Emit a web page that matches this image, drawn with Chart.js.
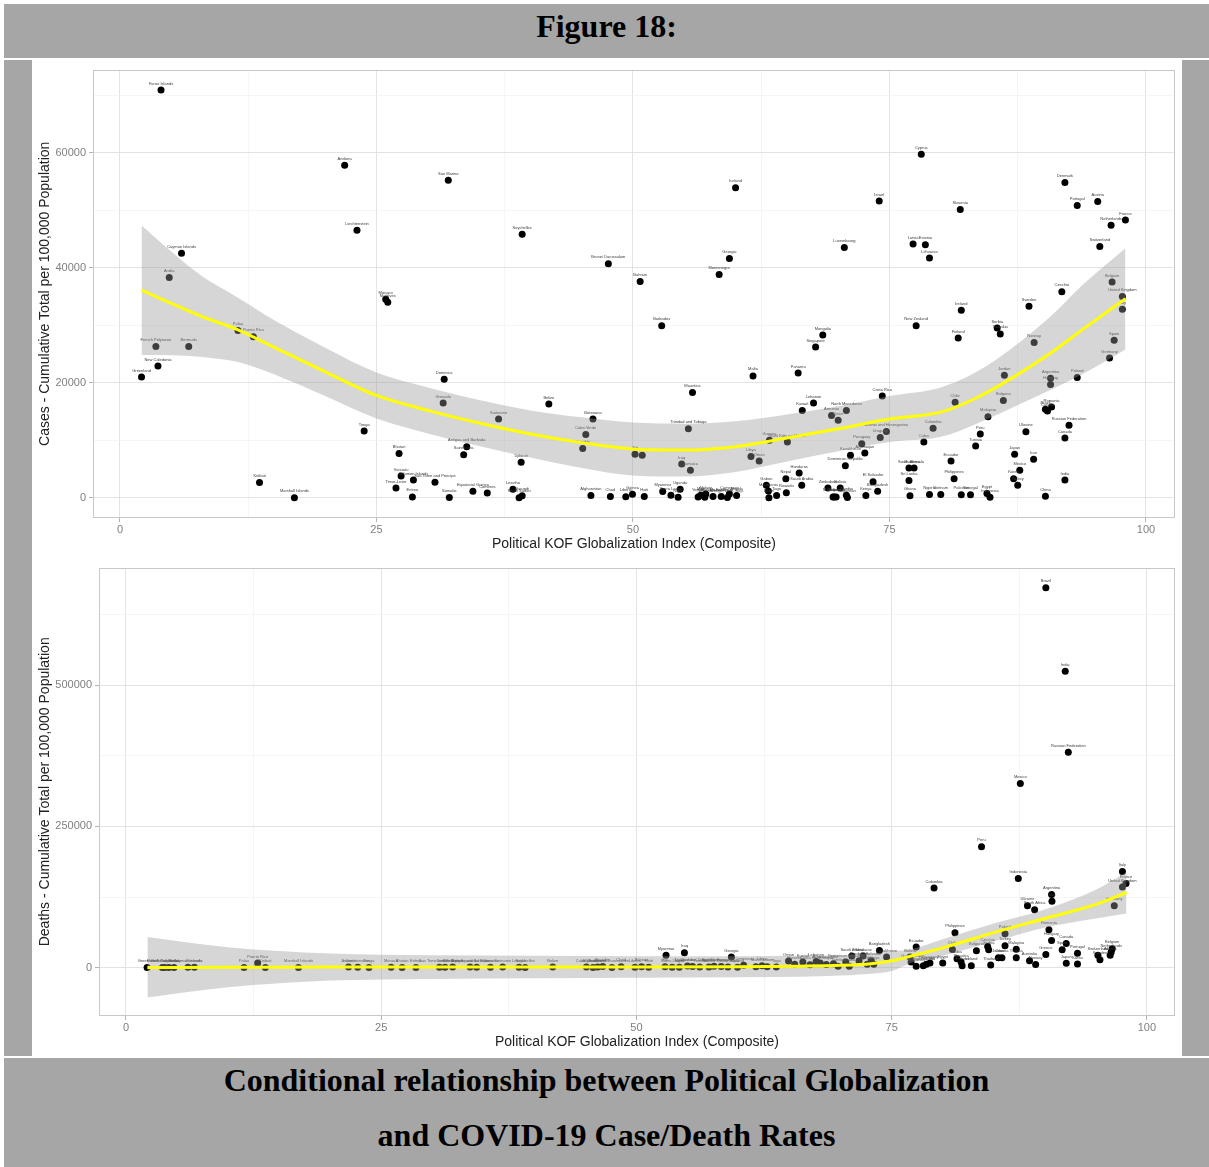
<!DOCTYPE html>
<html><head><meta charset="utf-8">
<script src="https://cdn.jsdelivr.net/npm/chart.js@4.4.0/dist/chart.umd.min.js"></script>
<style>
html,body{margin:0;padding:0;background:#fff;}
body{width:1209px;height:1167px;position:relative;overflow:hidden;}
.g{position:absolute;background:#a6a6a6;}
.t{position:absolute;left:4px;width:1205px;text-align:center;font-family:"Liberation Serif","Times New Roman",serif;font-weight:bold;font-size:32px;color:#000;}
canvas{position:absolute;left:32px;}
</style></head><body>
<div class="g" style="left:4px;top:4px;width:1205px;height:54px"></div>
<div class="g" style="left:4px;top:60px;width:28px;height:996px"></div>
<div class="g" style="left:1182px;top:60px;width:27px;height:996px"></div>
<div class="g" style="left:4px;top:1058px;width:1205px;height:109px"></div>
<div class="t" style="top:6px;line-height:40px">Figure 18:</div>
<div class="t" style="top:1053px;line-height:55px">Conditional relationship between Political Globalization<br>and COVID-19 Case/Death Rates</div>
<canvas id="c1" width="1150" height="498" style="top:60px"></canvas>
<canvas id="c2" width="1150" height="498" style="top:558px"></canvas>
<script>
// ---------- Top panel: cases ----------
const caseIndex = [
 4.0, 21.9, 32.0, 23.1, 39.2, 6.0, 4.8, 47.6, 25.9, 26.1,
 11.5, 13.0, 3.5, 6.7, 3.7, 2.1, 31.6, 31.5, 41.8, 36.9,
 46.1, 45.4, 23.8, 45.1, 33.8, 33.5, 27.2, 39.1, 27.4, 28.6,
 30.7, 13.6, 26.9, 17.0, 28.5, 32.1, 34.4, 35.8, 38.3, 38.9,
 39.2, 45.9, 47.8, 49.3, 50.7, 58.4, 59.4, 60.0, 74.0, 70.6,
 78.1, 77.3, 78.5, 78.9, 81.9, 92.1, 93.3, 95.3, 98.0, 96.6,
 95.5, 96.7, 91.8, 97.7, 97.7, 82.0, 88.6, 52.8, 77.6, 68.5,
 67.8, 81.7, 85.5, 85.8, 89.1, 96.9, 96.45, 61.7, 66.1, 55.8,
 86.2, 90.7, 90.7, 93.3, 74.3, 67.6, 66.5, 70.8, 69.35, 70.0,
 81.4, 86.1, 84.6, 90.2, 90.4, 90.8, 92.5, 92.1, 88.3, 83.85,
 83.4, 79.25, 78.35, 74.7, 74.1, 55.4, 63.3, 65.05, 72.3, 71.2,
 72.6, 70.7, 50.2, 50.9, 61.5, 62.3, 54.75, 55.6, 66.2, 64.9,
 66.45, 81.0, 76.9, 77.4, 76.9, 81.3, 87.2, 89.05, 87.7, 87.1,
 87.5, 92.1, 73.4, 73.85, 69.0, 70.2, 63.0, 63.2, 63.25, 64.0,
 64.95, 49.95, 51.1, 52.9, 53.7, 54.4, 54.6, 56.35, 56.6, 57.0,
 57.1, 57.8, 58.6, 59.2, 59.4, 60.1, 69.5, 69.6, 69.8, 70.8,
 70.9, 72.7, 77.0, 78.9, 80.0, 82.0, 82.9, 84.5, 84.8, 90.2
];
const caseRate = [
 70900, 57800, 55200, 46500, 45800, 42500, 38300, 40700, 34500, 34000,
 29100, 28000, 26300, 26300, 22900, 21000, 20600, 16500, 16300, 13700,
 13700, 11000, 11600, 8600, 8900, 7500, 7700, 6200, 3800, 3100,
 2700, 2650, 1700, 0, 170, 70, 1150, 860, 1500, 0,
 350, 410, 240, 200, 37600, 38800, 41600, 53900, 51600, 43500,
 59700, 44100, 44000, 41700, 50100, 54800, 50800, 51500, 48300, 47400,
 43700, 37500, 35800, 35000, 32800, 32600, 33300, 29900, 29900, 28300,
 26200, 27800, 29500, 28500, 27000, 27400, 24300, 21200, 21700, 18300,
 21300, 20800, 19700, 20900, 17700, 16500, 15200, 15200, 14300, 13500,
 16600, 16900, 14100, 15400, 15100, 15800, 12600, 10400, 11500, 11100,
 9000, 12100, 9700, 11550, 10500, 12000, 10000, 9700, 9400, 7400,
 7800, 5600, 7600, 7400, 7200, 6400, 5900, 4800, 4300, 3300,
 2200, 6400, 5200, 5200, 3000, 3300, 7600, 6700, 4800, 3300,
 2200, 3100, 2800, 1150, 1700, 1700, 2200, 1200, 0, 400,
 900, 620, 240, 1100, 460, 120, 1500, 170, 460, 120,
 690, 240, 240, 60, 690, 410, 170, 170, 170, 460,
 60, 410, 350, 580, 580, 520, 520, 750, 120, 290
];
const caseCountry = [
 "Faroe Islands","Andorra","San Marino","Liechtenstein","Seychelles","Cayman Islands","Aruba","Brunei Darussalam","Monaco","Maldives",
 "Palau","Puerto Rico","French Polynesia","Bermuda","New Caledonia","Greenland","Dominica","Grenada","Belize","Suriname",
 "Botswana","Cabo Verde","Tonga","Namibia","Antigua and Barbuda","Saint Lucia","Bhutan","Djibouti","Vanuatu","Solomon Islands",
 "Sao Tome and Principe","Kiribati","Timor-Leste","Marshall Islands","Eritrea","Somalia","Equatorial Guinea","Comoros","Lesotho","South Sudan",
 "Burundi","Afghanistan","Chad","Liberia","Bahrain","Montenegro","Georgia","Iceland","Israel","Luxembourg",
 "Cyprus","Latvia","Estonia","Lithuania","Slovenia","Denmark","Portugal","Austria","France","Netherlands",
 "Switzerland","Belgium","Czechia","United Kingdom","Italy","Ireland","Sweden","Barbados","New Zealand","Mongolia",
 "Singapore","Finland","Serbia","Slovakia","Norway","Spain","Germany","Malta","Panama","Mauritius",
 "Jordan","Argentina","Hungary","Poland","Costa Rica","Lebanon","Kuwait","North Macedonia","Armenia","Qatar",
 "Chile","Bulgaria","Malaysia","Brazil","Croatia","Romania","Russian Federation","Canada","Ukraine","Peru",
 "Tunisia","Colombia","Cuba","Bosnia and Herzegovina","Uruguay","Trinidad and Tobago","Guyana","Saint Kitts and Nevis","Paraguay","Kazakhstan",
 "Azerbaijan","Dominican Republic","Fiji","Samoa","Libya","Oman","Iraq","Jamaica","Honduras","Nepal",
 "Saudi Arabia","Ecuador","South Africa","Guatemala","Sri Lanka","Philippines","Japan","Iran","Mexico","Korea",
 "Turkey","India","El Salvador","Bangladesh","Zimbabwe","Bolivia","Gabon","Mauritania","Benin","Togo",
 "Rwanda","Guinea","Haiti","Myanmar","Sierra Leone","Niger","Uganda","Yemen","Mali","Tanzania",
 "Malawi","Burkina Faso","Mozambique","Congo, Dem. Rep.","Cameroon","Angola","Sudan","Madagascar","Ethiopia","Zambia",
 "Tajikistan","Kenya","Ghana","Nigeria","Vietnam","Pakistan","Senegal","Egypt","Indonesia","China"
];
// loess fit and confidence band (cases)
const caseFitX  = [2.1, 5, 8, 11.5, 15, 20, 25, 30, 35, 40, 45, 50, 55, 60, 65, 70, 75, 80, 83.5, 87, 90.5, 94, 98];
const caseFit   = [36100, 33800, 31500, 29200, 26200, 21900, 17800, 15200, 13000, 11100, 9600, 8500, 8300, 8900, 10400, 12000, 13700, 14900, 17400, 20900, 24900, 29500, 34600];
const caseHi    = [47350, 42800, 38500, 34800, 30900, 26100, 21800, 19200, 17000, 15200, 14000, 13100, 12900, 13300, 14500, 15900, 17700, 19200, 21900, 26100, 31200, 37300, 43400];
const caseLo    = [24850, 24800, 24500, 23600, 21500, 17700, 13800, 11200, 9000, 7000, 5200, 3900, 3700, 4500, 6300, 8100, 9700, 10600, 12900, 15700, 18600, 21700, 25800];

// ---------- Bottom panel: deaths ----------
const deathIndex = [
 90.1, 92.0, 92.3, 87.6, 83.8, 87.4, 79.15, 97.6, 97.95, 97.6,
 96.8, 90.66, 90.7, 88.3, 89.0, 81.2, 86.1, 90.4, 73.8, 77.4,
 80.95, 90.66, 92.1, 91.7, 90.1, 93.2, 92.1, 93.2, 96.6, 96.5,
 96.4, 95.2, 95.4, 83.3, 84.4, 84.5, 86.1, 87.2, 87.2, 85.45,
 85.8, 84.7, 88.5, 89.1, 82.8, 81.9, 81.8, 81.4, 80.0, 78.75,
 78.4, 78.1, 77.4, 76.9, 76.8, 74.5, 72.2, 71.1, 72.6, 73.25,
 70.85, 69.75, 68.6, 2.07, 3.57, 3.8, 4.2, 4.7, 6.07, 6.7,
 11.56, 12.9, 13.65, 16.9, 21.8, 22.7, 23.8, 25.97, 27.05, 28.4,
 30.7, 31.25, 32.0, 33.7, 34.35, 35.7, 36.9, 38.5, 39.1, 41.8,
 45.1, 45.75, 46.2, 47.6, 49.85, 50.5, 51.2, 52.9, 54.7, 59.3,
 52.8, 53.5, 54.2, 55.5, 56.2, 57.1, 58.3, 58.96, 59.9, 61.7,
 62.8, 63.7, 64.9, 66.3, 67.6, 46.7, 48.5, 55.0, 57.6, 60.5,
 62.3, 65.5, 67.0, 68.0, 69.3, 70.5, 71.8, 73.0
];
const deathRate = [
 672500, 524600, 381300, 326200, 214100, 157700, 140800, 170100, 149000, 142600,
 109700, 129600, 117300, 109700, 102600, 61600, 59900, 66900, 30500, 36300,
 32200, 48100, 42800, 31700, 23400, 25200, 7600, 6300, 33400, 27500,
 21700, 21700, 14100, 29900, 37500, 31700, 38700, 32700, 17600, 17600,
 17600, 4600, 12300, 5300, 3500, 3500, 9900, 15800, 8100, 8100,
 5800, 3500, 2300, 9900, 18700, 18700, 20400, 20400, 5800, 5800,
 2300, 2300, 5300, 0, 300, 200, 400, 300, 600, 500,
 300, 8100, 200, 100, 900, 600, 200, 700, 300, 400,
 600, 800, 1200, 900, 700, 500, 1000, 800, 300, 1200,
 1000, 400, 900, 300, 600, 1500, 800, 21700, 26400, 18700,
 1500, 700, 500, 2000, 900, 1200, 1800, 1000, 700, 1600,
 1500, 900, 11700, 10000, 10600, 2000, 1500, 3000, 2500, 4000,
 3500, 6000, 5000, 8000, 7000, 10000, 12000, 12000
];
const deathCountry = [
 "Brazil","India","Russian Federation","Mexico","Peru","Indonesia","Colombia","Italy","France","United Kingdom",
 "Germany","Argentina","Iran","Ukraine","South Africa","Philippines","Poland","Romania","Bangladesh","Ecuador",
 "Chile","Hungary","Canada","Spain","Greece","Portugal","Japan","Korea","Belgium","Netherlands",
 "Austria","Switzerland","Sweden","Bulgaria","Czechia","Serbia","Turkey","Malaysia","Tunisia","Jordan",
 "Croatia","Thailand","Australia","Norway","Ireland","Finland","Slovakia","Cuba","Egypt","Paraguay",
 "Uruguay","New Zealand","Sri Lanka","Guatemala","Bolivia","Kazakhstan","Honduras","Saudi Arabia","Nepal","Kenya",
 "Ghana","Zambia","Ethiopia","Greenland","French Polynesia","New Caledonia","Faroe Islands","Aruba","Cayman Islands","Bermuda",
 "Palau","Puerto Rico","Kiribati","Marshall Islands","Andorra","Liechtenstein","Tonga","Monaco","Bhutan","Eritrea",
 "Sao Tome and Principe","Dominica","San Marino","Antigua and Barbuda","Equatorial Guinea","Comoros","Suriname","Lesotho","Seychelles","Belize",
 "Cabo Verde","Afghanistan","Botswana","Brunei Darussalam","Liberia","Bahrain","Haiti","Myanmar","Iraq","Georgia",
 "Fiji","Sierra Leone","Niger","Trinidad and Tobago","Yemen","Malawi","Montenegro","Mozambique","Iceland","Malta",
 "Gabon","Togo","Oman","Kuwait","Lebanon","Namibia","Chad","Uganda","Burkina Faso","Cameroon",
 "Libya","Panama","Costa Rica","Armenia","Qatar","Dominican Republic","Azerbaijan","El Salvador"
];
// loess fit and confidence band (deaths)
const deathFitX = [2.1, 10, 20, 30, 40, 50, 60, 66, 70, 73, 75, 77, 80, 85, 90, 95, 98];
const deathFit  = [0, 500, 1000, 1000, 1000, 1000, 1500, 2500, 4000, 7000, 12000, 21000, 35000, 62000, 87000, 112000, 133000];
const deathHi   = [54000, 36000, 25000, 22000, 21000, 20000, 20000, 21000, 22000, 25000, 29000, 33000, 50000, 78000, 103000, 138000, 169000];
const deathLo   = [-53000, -35000, -23000, -20000, -19000, -18000, -17000, -16000, -14000, -11000, -6000, 9000, 21000, 46000, 71000, 87000, 96000];

// axis ticks (major ticks are labelled, minor ticks only give a grid line)
const xTicks = [0, 12.5, 25, 37.5, 50, 62.5, 75, 87.5, 100];
const xMajorStep = 25;
const caseTicks = [0, 10000, 20000, 30000, 40000, 50000, 60000, 70000];
const caseMajorStep = 20000;
const deathTicks = [0, 125000, 250000, 375000, 500000, 625000];
const deathMajorStep = 250000;
const xTitle = 'Political KOF Globalization Index (Composite)';

// ---------- helpers ----------
const pts = (xs, ys) => xs.map((x, i) => ({x: x, y: ys[i]}));
const isMult = (v, s) => Math.abs(v / s - Math.round(v / s)) < 1e-6;
const FONT = '"Liberation Sans", Arial, sans-serif';

const labelPlugin = {
  id: 'ptlabels',
  afterDatasetDraw(chart, args, opts) {
    if (args.index !== 3) return;
    const ctx = chart.ctx;
    ctx.save();
    ctx.font = '4px ' + FONT;
    ctx.fillStyle = '#3a3a3a';
    ctx.textAlign = 'center';
    ctx.textBaseline = 'bottom';
    args.meta.data.forEach((el, i) => {
      ctx.fillText(opts.labels[i], el.x, el.y - 4.5);
    });
    ctx.restore();
  }
};
const borderPlugin = {
  id: 'panelBorder',
  afterDatasetsDraw(chart) {
    const {ctx, chartArea: a} = chart;
    ctx.save();
    ctx.strokeStyle = '#c8c8c8';
    ctx.lineWidth = 1;
    ctx.strokeRect(Math.round(a.left) + 0.5, Math.round(a.top) + 0.5,
                   Math.round(a.right - a.left) - 1, Math.round(a.bottom - a.top) - 1);
    ctx.restore();
  }
};

function grid(major) {
  const m = c => c.tick && major(c.tick.value);
  return {
    color: c => m(c) ? '#e3e3e3' : '#f0f0f0',
    lineWidth: c => m(c) ? 1 : 0.7,
    tickColor: c => m(c) ? '#b3b3b3' : 'rgba(0,0,0,0)',
    tickLength: 4,
    drawTicks: true
  };
}

const tickFont = {family: FONT, size: 11};
const titleFont = {family: FONT, size: 14};

function makeChart(id, o) {
  const xMajor = v => isMult(v, xMajorStep);
  const yMajor = v => isMult(v, o.yMajorStep);
  return new Chart(document.getElementById(id), {
    type: 'scatter',
    data: { datasets: [
      { data: pts(o.fitX, o.fit), showLine: true, borderColor: '#ffff00', borderWidth: 3,
        pointRadius: 0, cubicInterpolationMode: 'monotone', fill: false, order: 0 },
      { data: pts(o.fitX, o.hi), showLine: true, borderColor: 'rgba(0,0,0,0)', borderWidth: 1,
        pointRadius: 0, cubicInterpolationMode: 'monotone', fill: '+1',
        backgroundColor: 'rgba(153,153,153,0.4)', order: 1 },
      { data: pts(o.fitX, o.lo), showLine: true, borderColor: 'rgba(0,0,0,0)', borderWidth: 1,
        pointRadius: 0, cubicInterpolationMode: 'monotone', fill: false, order: 1 },
      { data: pts(o.xs, o.ys), backgroundColor: '#000', borderWidth: 0, pointRadius: 3.5,
        pointHoverRadius: 3.5, order: 2 }
    ]},
    options: {
      responsive: false, animation: false, events: [],
      layout: { padding: {left: 0, top: o.padTop, right: 7, bottom: 0} },
      plugins: { legend: {display: false}, tooltip: {enabled: false}, ptlabels: {labels: o.names} },
      scales: {
        x: {
          type: 'linear', min: o.xmin, max: o.xmax,
          afterBuildTicks: s => { s.ticks = xTicks.map(v => ({value: v})); },
          ticks: { autoSkip: false, maxRotation: 0, padding: 1, color: '#808080', font: tickFont,
                   callback: v => xMajor(v) ? String(v) : '' },
          grid: grid(xMajor), border: {display: false},
          title: { display: true, text: xTitle, color: '#222', font: titleFont, padding: {top: 2, bottom: 5} },
          afterFit: s => { s.height = 40; }
        },
        y: {
          type: 'linear', min: o.ymin, max: o.ymax,
          afterBuildTicks: s => { s.ticks = o.yTicks.map(v => ({value: v})); },
          ticks: { autoSkip: false, padding: 3, color: '#808080', font: tickFont,
                   callback: v => yMajor(v) ? String(v) : '' },
          grid: grid(yMajor), border: {display: false},
          title: { display: true, text: o.yTitle, color: '#222', font: titleFont, padding: {top: 5, bottom: 2} },
          afterFit: s => { s.width = o.yWidth; }
        }
      }
    },
    plugins: [labelPlugin, borderPlugin]
  });
}

makeChart('c1', {
  xs: caseIndex, ys: caseRate, names: caseCountry,
  fitX: caseFitX, fit: caseFit, hi: caseHi, lo: caseLo,
  xmin: -2.63, xmax: 102.83, ymin: -3500, ymax: 74430,
  yTicks: caseTicks, yMajorStep: caseMajorStep,
  yTitle: 'Cases - Cumulative Total per 100,000 Population',
  yWidth: 61, padTop: 6
});
makeChart('c2', {
  xs: deathIndex, ys: deathRate, names: deathCountry,
  fitX: deathFitX, fit: deathFit, hi: deathHi, lo: deathLo,
  xmin: -2.64, xmax: 102.75, ymin: -85700, ymax: 708300,
  yTicks: deathTicks, yMajorStep: deathMajorStep,
  yTitle: 'Deaths - Cumulative Total per 100,000 Population',
  yWidth: 67, padTop: 7
});
</script>
</body></html>
